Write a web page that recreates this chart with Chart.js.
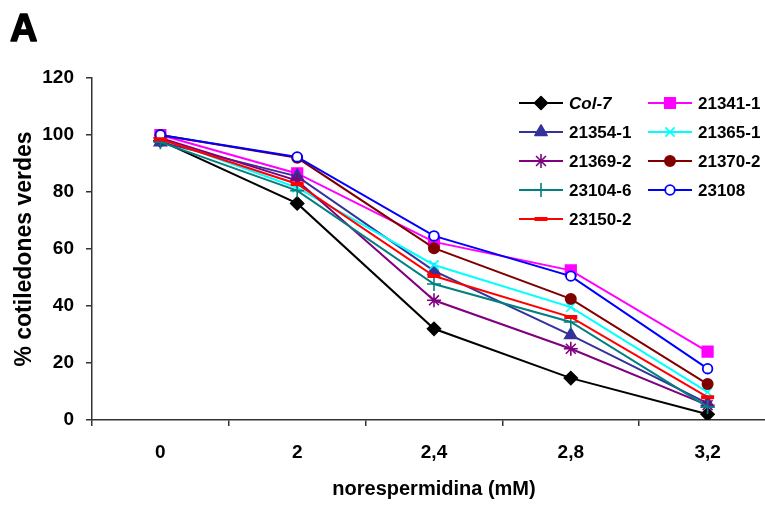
<!DOCTYPE html>
<html>
<head>
<meta charset="utf-8">
<script src="https://cdn.jsdelivr.net/npm/chart.js@4"></script>
<style>
  body { margin: 0; background: #fff; }
  #wrap { width: 765px; height: 505px; overflow: hidden; position: relative; }
  #box { width: 790px; height: 505px; }
</style>
</head>
<body>
<div id="wrap"><div id="box"><canvas id="chart"></canvas></div></div>
<script>
// categorias (norespermidina mM)
const categories = ["0", "2", "2,4", "2,8", "3,2"];
const yTicks = [0, 20, 40, 60, 80, 100, 120];

// series
const seriesNames = ["Col-7", "21341-1", "21354-1", "21365-1", "21369-2", "21370-2", "23104-6", "23108", "23150-2"];
const col7 = [98, 76, 32, 14.7, 2];
const s21341 = [100, 86.5, 62.5, 52.5, 24];
const s21354 = [97.5, 85.5, 52.3, 29.8, 5.8];
const s21365 = [99, 81.5, 54.4, 39.6, 9.8];
const s21369 = [99, 84, 42, 25, 5.2];
const s21370 = [100, 92, 60.3, 42.5, 12.6];
const s23104 = [97.5, 80.5, 47.7, 34.4, 4.6];
const s23108 = [100, 92.3, 64.6, 50.5, 18];
const s23150 = [98.5, 82.8, 50.5, 36.1, 8];

const seriesValues = [col7, s21341, s21354, s21365, s21369, s21370, s23104, s23108, s23150];
const seriesColors = ["#000000", "#ff00ff", "#333399", "#00ffff", "#800080", "#800000", "#008080", "#0000ff", "#ff0000"];
const seriesMarkers = ["rectRot", "rect", "triangle", "crossRot", "star", "circle", "cross", "circle", "line"];
const markerSizes = [6.5, 7.5, 7, 6.5, 7, 5.2, 7, 4.8, 6.5];

const datasets = seriesNames.map((name, i) => {
  const marker = seriesMarkers[i];
  const open = name === "23108";
  return {
    label: name,
    data: seriesValues[i],
    borderColor: seriesColors[i],
    backgroundColor: open ? "#ffffff" : seriesColors[i],
    pointBackgroundColor: open ? "#ffffff" : seriesColors[i],
    pointBorderColor: seriesColors[i],
    pointStyle: marker,
    pointRadius: markerSizes[i],
    pointBorderWidth: marker === "line" ? 4 : (open ? 1.8 : 1.6),
    borderWidth: 2,
    tension: 0,
    order: seriesNames.length - i // las ultimas series encima
  };
});

const font = "'Liberation Sans', Arial, sans-serif";

// leyenda en dos columnas + letra "A"
const extras = {
  id: "extras",
  afterDraw(chart) {
    const ctx = chart.ctx;
    ctx.save();
    ctx.fillStyle = "#000";
    ctx.strokeStyle = "#000";
    ctx.lineWidth = 1.5;
    ctx.lineJoin = "round";
    ctx.font = "bold 38px " + font;
    ctx.textBaseline = "alphabetic";
    ctx.fillText("A", 10, 41);
    ctx.strokeText("A", 10, 41);

    chart.data.datasets.forEach((ds, i) => {
      const col = i % 2;
      const row = Math.floor(i / 2);
      const x0 = col ? 648 : 519;
      const y = 103 + row * 29;
      ctx.strokeStyle = ds.borderColor;
      ctx.lineWidth = 2;
      ctx.beginPath();
      ctx.moveTo(x0, y);
      ctx.lineTo(x0 + 44, y);
      ctx.stroke();
      ctx.fillStyle = ds.pointBackgroundColor;
      ctx.strokeStyle = ds.pointBorderColor;
      ctx.lineWidth = ds.pointBorderWidth;
      Chart.helpers.drawPoint(ctx, { pointStyle: ds.pointStyle, radius: ds.pointRadius, rotation: 0, borderWidth: ds.pointBorderWidth }, x0 + 22, y);
      ctx.fillStyle = "#000";
      ctx.textBaseline = "middle";
      ctx.font = (i === 0 ? "italic " : "") + "bold 17px " + font;
      ctx.fillText(ds.label, x0 + 50, y + 1);
    });
    ctx.restore();
  }
};

new Chart(document.getElementById("chart"), {
  type: "line",
  data: { labels: categories, datasets: datasets },
  options: {
    responsive: true,
    maintainAspectRatio: false,
    animation: false,
    layout: { padding: { top: 78, right: 14, left: 0, bottom: 0 } },
    plugins: { legend: { display: false }, tooltip: { enabled: false } },
    scales: {
      x: {
        offset: true,
        grid: { offset: true, drawOnChartArea: false, drawTicks: true, tickLength: 6, color: "#333", lineWidth: 1.5 },
        border: { display: true, color: "#333", width: 1.5 },
        ticks: { color: "#000", font: { family: font, size: 19, weight: "bold" }, padding: 15 },
        title: { display: true, text: "norespermidina (mM)", color: "#000", font: { family: font, size: 20, weight: "bold" }, padding: { top: 0, bottom: 4 } },
        afterFit(scale) { scale.height = 85; }
      },
      y: {
        min: 0,
        max: 120,
        afterBuildTicks(scale) { scale.ticks = yTicks.map(v => ({ value: v })); },
        grid: { drawOnChartArea: false, drawTicks: true, tickLength: 6, color: "#333", lineWidth: 1.5 },
        border: { display: true, color: "#333", width: 1.5 },
        ticks: { color: "#000", font: { family: font, size: 19, weight: "bold" }, padding: 12 },
        title: { display: true, text: "% cotiledones verdes", color: "#000", font: { family: font, size: 23, weight: "bold" }, padding: { top: 11, bottom: 0 } },
        afterFit(scale) { scale.width = 92; }
      }
    }
  },
  plugins: [extras]
});
</script>
</body>
</html>
